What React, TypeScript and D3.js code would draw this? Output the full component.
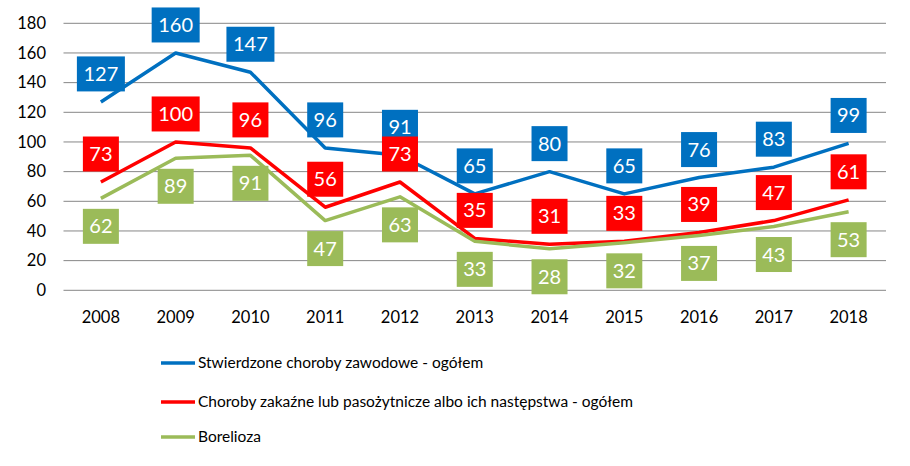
import React from "react";
import * as d3 from "d3";

const years = ["2008", "2009", "2010", "2011", "2012", "2013", "2014", "2015", "2016", "2017", "2018"];
const zawodowe = [127, 160, 147, 96, 91, 65, 80, 65, 76, 83, 99];
const zakazne = [73, 100, 96, 56, 73, 35, 31, 33, 39, 47, 61];
const borelioza = [62, 89, 91, 47, 63, 33, 28, 32, 37, 43, 53];
const yTicks = [0, 20, 40, 60, 80, 100, 120, 140, 160, 180];
const seriesNames = [
  "Stwierdzone choroby zawodowe - ogółem",
  "Choroby zakaźne lub pasożytnicze albo ich następstwa - ogółem",
  "Borelioza",
];

const W = 910;
const H = 466;
const FONT = "Lato, 'Open Sans', sans-serif";

export default function App() {
  const x = d3.scaleBand<string>().domain(years).range([63.5, 886]);
  const y = d3.scaleLinear().domain([0, 180]).range([290.3, 23.3]);
  const cx = (yr: string) => (x(yr) as number) + x.bandwidth() / 2;

  const series = [
    { name: seriesNames[0], values: zawodowe, color: "#0070C0", dir: -1 },
    { name: seriesNames[1], values: zakazne, color: "#FF0000", dir: -1 },
    { name: seriesNames[2], values: borelioza, color: "#9BBB59", dir: 1 },
  ];

  const line = d3
    .line<number>()
    .x((_, i) => cx(years[i]))
    .y((d) => y(d));

  const legendY = [363, 402, 437];

  return (
    <svg
      width={W}
      height={H}
      style={{ position: "absolute", left: 0, top: 0, background: "#fff" }}
      fontFamily={FONT}
    >
      <rect width={W} height={H} fill="#fff" />
      {yTicks.map((t) => (
        <g key={t}>
          <line x1={63.5} x2={886} y1={y(t)} y2={y(t)} stroke="#868686" strokeWidth={1} />
          <text x={46} y={y(t)} dy="0.35em" textAnchor="end" fontSize={16.5} fill="#000">
            {t}
          </text>
        </g>
      ))}
      {years.map((yr) => (
        <text key={yr} x={cx(yr)} y={323} textAnchor="middle" fontSize={16.5} fill="#000">
          {yr}
        </text>
      ))}
      {series.map((s) => (
        <path
          key={s.name}
          d={line(s.values) as string}
          fill="none"
          stroke={s.color}
          strokeWidth={3.5}
          strokeLinejoin="round"
        />
      ))}
      {series.map((s) => (
        <g key={s.name + "-labels"}>
          {s.values.map((v, i) => {
            const txt = String(v);
            const bw = txt.length * 12 + 12;
            const bh = 35;
            const px = cx(years[i]);
            const py = y(v) + s.dir * 28;
            return (
              <g key={i}>
                <rect x={px - bw / 2} y={py - bh / 2} width={bw} height={bh} fill={s.color} />
                <text
                  x={px}
                  y={py}
                  dy="0.35em"
                  textAnchor="middle"
                  fontSize={20}
                  fill="#fff"
                >
                  {txt}
                </text>
              </g>
            );
          })}
        </g>
      ))}
      {series.map((s, i) => (
        <g key={s.name + "-legend"}>
          <line x1={161} x2={195} y1={legendY[i]} y2={legendY[i]} stroke={s.color} strokeWidth={3.5} />
          <text x={198} y={legendY[i]} dy="0.35em" fontSize={15.5} fill="#000">
            {s.name}
          </text>
        </g>
      ))}
    </svg>
  );
}
